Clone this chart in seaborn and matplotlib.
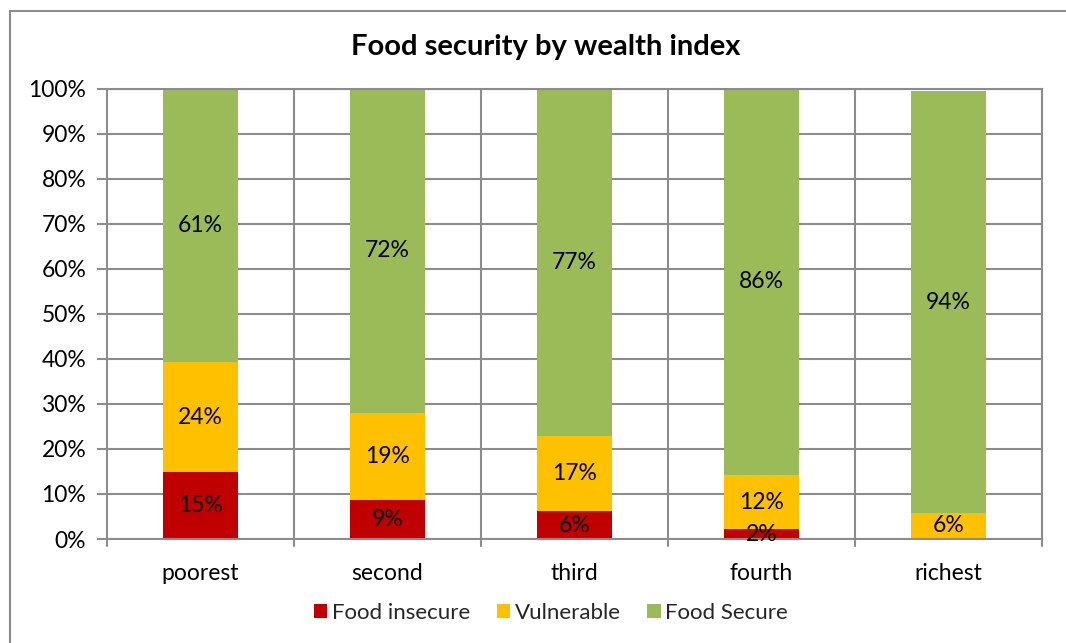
import matplotlib
matplotlib.use("Agg")
import matplotlib.pyplot as plt
from matplotlib.lines import Line2D
from matplotlib.patches import Patch
import numpy as np
import pandas as pd
import seaborn as sns

# Wealth quintiles and food-security shares (%)
categories = ["poorest", "second", "third", "fourth", "richest"]
food_insecure = [14.8, 8.6, 6.2, 2.2, 0.0]
vulnerable = [24.4, 19.4, 16.6, 12.0, 5.8]
food_secure = [60.8, 72.0, 77.2, 85.8, 93.6]
series_names = ["Food insecure", "Vulnerable", "Food Secure"]
series_colors = ["#C00000", "#FFC000", "#9BBB59"]
y_ticks = list(range(0, 101, 10))

sns.set_theme(style="white")
plt.rcParams["font.family"] = ["Lato", "DejaVu Sans"]

df = pd.DataFrame({
    "group": categories,
    "Food insecure": food_insecure,
    "Vulnerable": vulnerable,
    "Food Secure": food_secure,
})

W, H = 1066, 643
fig = plt.figure(figsize=(W / 100, H / 100), dpi=100)
ax = fig.add_axes([107 / W, 1 - 539 / H, (1042 - 107) / W, (539 - 88.5) / H])

grid_c = "#8C8C8C"
fs = 16.5

# gridlines behind the bars
for v in y_ticks:
    ax.axhline(v, color=grid_c, lw=1.5, zorder=0)
for b in np.arange(0.5, len(categories) - 0.5, 1.0):
    ax.axvline(b, color=grid_c, lw=1.5, zorder=0)

bottom = np.zeros(len(categories))
for name, color in zip(series_names, series_colors):
    vals = df[name].to_numpy()
    sns.barplot(data=df, x="group", y=name, order=categories, color=color,
                width=0.4, bottom=bottom, ax=ax, saturation=1,
                edgecolor="none", linewidth=0, zorder=2)
    for i, (v, b) in enumerate(zip(vals, bottom)):
        if v > 0:
            ax.text(i, b + v / 2, f"{v:.0f}%", ha="center", va="center",
                    fontsize=fs, color="black", zorder=4)
    bottom = bottom + vals

ax.set_xlim(-0.5, len(categories) - 0.5)
ax.set_ylim(0, 100)
ax.set_yticks(y_ticks)
ax.set_yticklabels([f"{v}%" for v in y_ticks], fontsize=fs, color="black")
ax.set_xticks(range(len(categories)))
ax.set_xticklabels(categories, fontsize=fs, color="black")
ax.set_xlabel("")
ax.set_ylabel("")
ax.tick_params(axis="x", length=0, pad=17)
ax.tick_params(axis="y", length=7, width=1.5, color=grid_c, pad=8, left=True)

# tick marks at the category boundaries below the axis
for b in np.arange(-0.5, len(categories) + 0.5, 1.0):
    ax.plot([b, b], [0, -1.6], color=grid_c, lw=1.5, clip_on=False, zorder=3)

for s in ax.spines.values():
    s.set_color(grid_c)
    s.set_linewidth(1.5)

fig.text(546 / W, 1 - 47 / H, "Food security by wealth index", ha="center",
         va="center", fontsize=21, fontweight="bold", color="black")

handles = [Patch(facecolor=c, edgecolor="none") for c in series_colors]
fig.legend(handles, series_names, loc="center", bbox_to_anchor=(551 / W, 1 - 613 / H),
           ncol=3, frameon=False, fontsize=16, handlelength=0.6,
           handleheight=0.6, handletextpad=0.2, columnspacing=1.2)

# chart border (top and left edges)
fig.add_artist(Line2D([10 / W, 1.0], [1 - 10.5 / H, 1 - 10.5 / H],
                      color="#8C8C8C", lw=1.5, transform=fig.transFigure))
fig.add_artist(Line2D([10 / W, 10 / W], [0.0, 1 - 10.5 / H],
                      color="#8C8C8C", lw=1.5, transform=fig.transFigure))

fig.savefig("out.png", dpi=100, facecolor="white")
